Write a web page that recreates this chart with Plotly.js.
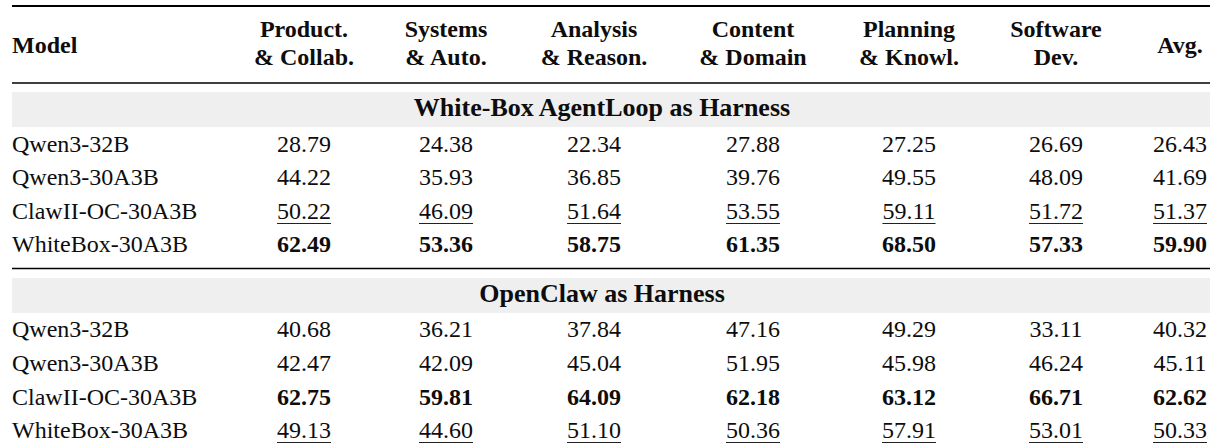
<!DOCTYPE html>
<html>
<head>
<meta charset="utf-8">
<script src="https://cdn.plot.ly/plotly-3.0.1.min.js"></script>
<style>
  html, body { margin: 0; padding: 0; background: #ffffff; overflow: hidden; }
  #chart { width: 1210px; height: 448px; }
</style>
</head>
<body>
<div id="chart"></div>
<script>
// ---------------- DATA ----------------
const headerModel = 'Model';
const headerTop = ['Product.', 'Systems', 'Analysis', 'Content', 'Planning', 'Software'];
const headerBottom = ['& Collab.', '& Auto.', '& Reason.', '& Domain', '& Knowl.', 'Dev.'];
const headerAvg = 'Avg.';

const sectionTitles = ['White-Box AgentLoop as Harness', 'OpenClaw as Harness'];
const models = ['Qwen3-32B', 'Qwen3-30A3B', 'ClawII-OC-30A3B', 'WhiteBox-30A3B'];

// columns: Product, Systems, Analysis, Content, Planning, Software, Avg
const whiteBoxQwen32 = [28.79, 24.38, 22.34, 27.88, 27.25, 26.69, 26.43];
const whiteBoxQwen30 = [44.22, 35.93, 36.85, 39.76, 49.55, 48.09, 41.69];
const whiteBoxClawII = [50.22, 46.09, 51.64, 53.55, 59.11, 51.72, 51.37];
const whiteBoxWhiteBox = [62.49, 53.36, 58.75, 61.35, 68.50, 57.33, 59.90];

const openClawQwen32 = [40.68, 36.21, 37.84, 47.16, 49.29, 33.11, 40.32];
const openClawQwen30 = [42.47, 42.09, 45.04, 51.95, 45.98, 46.24, 45.11];
const openClawClawII = [62.75, 59.81, 64.09, 62.18, 63.12, 66.71, 62.62];
const openClawWhiteBox = [49.13, 44.60, 51.10, 50.36, 57.91, 53.01, 50.33];

// which model row is bold (best) / underlined (second) in each section
const boldRow = [3, 2];
const underlineRow = [2, 3];

const sections = [
  [whiteBoxQwen32, whiteBoxQwen30, whiteBoxClawII, whiteBoxWhiteBox],
  [openClawQwen32, openClawQwen30, openClawClawII, openClawWhiteBox]
];

// ---------------- LAYOUT CONSTANTS ----------------
const W = 1210, H = 448;
const FONT = 'Liberation Serif, Times New Roman, serif';
const FS = 24;
const TITLE_FS = 26;
const INK = '#0d0d0d';
const modelX = 12;
const colX = [304, 446, 594, 753, 909, 1056, 1180];
const headTopY = 31, headBotY = 59, headMidY = 47;
const rowY = [[146, 179, 213, 246], [331, 365, 399, 432]];
const bandY = [[92, 127], [278, 313]];
const titleY = [109, 295];
const titleX = 602;
const rules = [{y: 6, w: 2}, {y: 83, w: 1.3}, {y: 268.5, w: 1.3}];
const ruleX0 = 12, ruleX1 = 1210;
const underlineGap = 10.5;

function fmt(v) { return v.toFixed(2); }

const canvas = document.createElement('canvas');
const ctx = canvas.getContext('2d');
function textWidth(s, bold) {
  ctx.font = (bold ? 'bold ' : '') + FS + 'px "Liberation Serif"';
  return ctx.measureText(s).width;
}

const traces = [];
const shapes = [];

function textTrace(xs, ys, texts, bold, pos, size) {
  traces.push({
    type: 'scatter', mode: 'text', x: xs, y: ys, text: texts,
    textposition: pos || 'middle center',
    textfont: {family: FONT, size: size || FS, color: INK, weight: bold ? 'bold' : 'normal'},
    hoverinfo: 'skip', showlegend: false, cliponaxis: false,
    marker: {size: 0.001}
  });
}

// header
textTrace([modelX], [headMidY], [headerModel], true, 'middle right');
textTrace(colX.slice(0, 6), headerTop.map(() => headTopY), headerTop, true);
textTrace(colX.slice(0, 6), headerBottom.map(() => headBotY), headerBottom, true);
textTrace([colX[6]], [headMidY], [headerAvg], true);

// rules
rules.forEach(r => shapes.push({type: 'line', xref: 'x', yref: 'y', x0: ruleX0, x1: ruleX1, y0: r.y, y1: r.y,
  line: {color: '#000', width: r.w}, layer: 'above'}));

sections.forEach((rows, s) => {
  // band
  shapes.push({type: 'rect', xref: 'x', yref: 'y', x0: ruleX0, x1: ruleX1, y0: bandY[s][0], y1: bandY[s][1],
    fillcolor: '#efefef', line: {width: 0}, layer: 'below'});
  textTrace([titleX], [titleY[s]], [sectionTitles[s]], true, 'middle center', TITLE_FS);
  // model names
  textTrace(models.map(() => modelX), rowY[s], models, false, 'middle right');
  // values
  const nx = [], ny = [], nt = [], bx = [], by = [], bt = [];
  rows.forEach((vals, r) => {
    vals.forEach((v, c) => {
      const t = fmt(v);
      if (r === boldRow[s]) { bx.push(colX[c]); by.push(rowY[s][r]); bt.push(t); }
      else { nx.push(colX[c]); ny.push(rowY[s][r]); nt.push(t); }
      if (r === underlineRow[s]) {
        const w = textWidth(t, false) || 54;
        const yU = rowY[s][r] + underlineGap;
        shapes.push({type: 'line', xref: 'x', yref: 'y', x0: colX[c] - w / 2, x1: colX[c] + w / 2, y0: yU, y1: yU,
          line: {color: '#222', width: 1.2}, layer: 'above'});
      }
    });
  });
  textTrace(nx, ny, nt, false);
  textTrace(bx, by, bt, true);
});

const layout = {
  width: W, height: H,
  margin: {l: 0, r: 0, t: 0, b: 0, pad: 0},
  paper_bgcolor: '#ffffff', plot_bgcolor: '#ffffff',
  xaxis: {range: [0, W], visible: false, fixedrange: true},
  yaxis: {range: [H, 0], visible: false, fixedrange: true},
  shapes: shapes,
  showlegend: false,
  font: {family: FONT, color: INK}
};

Plotly.newPlot('chart', traces, layout, {displayModeBar: false, staticPlot: true});
</script>
</body>
</html>
